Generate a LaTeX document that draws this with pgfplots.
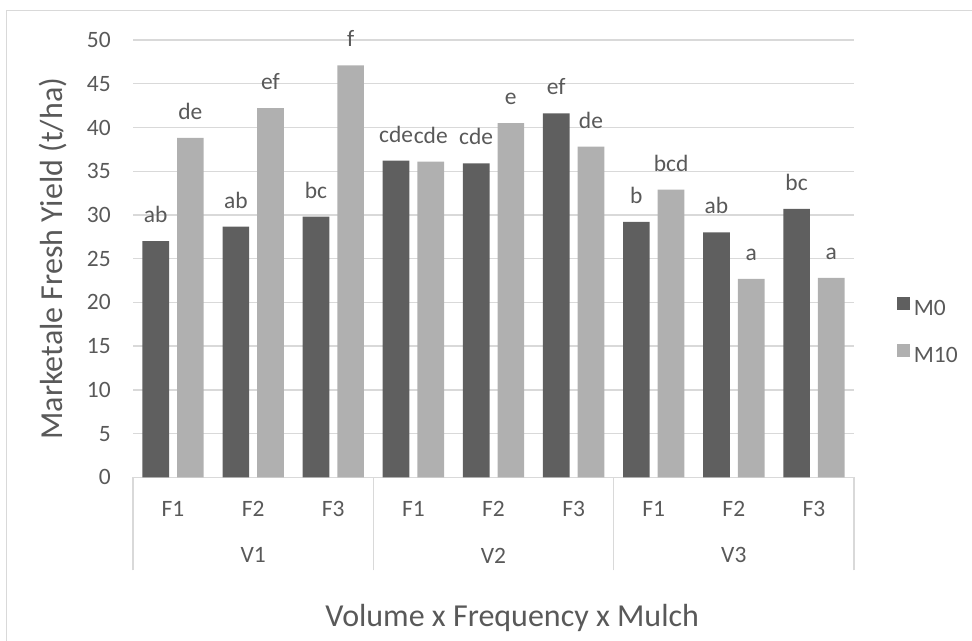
\documentclass[border=0pt]{standalone}
\usepackage{pgfplots}
\pgfplotsset{compat=1.18}
\usepackage{fontspec}
\setmainfont{Carlito}
\definecolor{darkbar}{HTML}{5F5F5F}
\definecolor{lightbar}{HTML}{B0B0B0}
\definecolor{txt}{HTML}{595959}
\definecolor{gridc}{HTML}{D9D9D9}
\newcommand{\lblfont}{\fontsize{17.6}{20}\selectfont}
\newcommand{\ttlfont}{\fontsize{24}{28}\selectfont}
\begin{document}
\begin{tikzpicture}
\begin{scope}[x=0.75pt,y=-0.75pt]
\useasboundingbox (0,0) rectangle (972,640);
\draw[gridc, line width=1pt] (6.5,700) -- (6.5,10.5) -- (1000,10.5);
\end{scope}
\begin{axis}[
  at={(99.75pt,-357.975pt)}, anchor=south west,
  width=540.75pt, height=327.975pt, scale only axis,
  xmin=-0.5, xmax=8.5, ymin=0, ymax=50,
  ybar=6pt, bar width=20pt,
  ytick={0,5,...,50}, ymajorgrids, grid style={gridc, line width=1pt},
  xtick={0,...,8}, xticklabels={F1,F2,F3,F1,F2,F3,F1,F2,F3},
  axis line style={draw=none},
  major tick length=0pt,
  xtick pos=bottom, ytick pos=left,
  tick style={gridc, line width=1pt},
  extra x ticks={-0.5,2.5,5.5,8.5}, extra x tick labels={},
  extra x tick style={major tick length=69.75pt, tick align=outside},
  ticklabel style={font=\lblfont, text=txt},
  /pgf/number format/assume math mode=true,
  yticklabel style={inner sep=0pt, anchor=east, xshift=-16.5pt},
  xticklabel style={anchor=center, yshift=-23.5pt, inner sep=0pt},
  clip=false,
  nodes near coords, point meta=explicit symbolic,
  every node near coord/.append style={anchor=base, yshift=13.9pt, inner sep=0pt, font=\lblfont, text=txt},
  xlabel={Volume x Frequency x Mulch},
  xlabel style={at={(axis description cs:0.526,-0.342)}, anchor=base, font=\ttlfont, text=txt},
  ylabel={Marketale Fresh Yield (t/ha)},
  ylabel style={at={(axis description cs:-0.111,0.5)}, anchor=center, font=\ttlfont, text=txt},
  legend image code/.code={\fill[#1] (0pt,-0.6pt) rectangle (9.75pt,9.15pt);},
  legend style={at={(axis description cs:1.059,0.335)}, anchor=west, draw=none, fill=none,
    inner sep=0pt, outer sep=0pt, font=\lblfont, text=txt, row sep=20pt, column sep=3.25pt,
    nodes={inner sep=0pt}},
  legend cell align=left,
]
\addplot[fill=darkbar, draw=none] coordinates {
  (0,27.0) [ab] (1,28.65) [ab] (2,29.8) [bc]
  (3,36.2) [cde] (4,35.9) [cde] (5,41.6) [ef]
  (6,29.2) [b] (7,28.0) [ab] (8,30.7) [bc]};
\addplot[fill=lightbar, draw=none] coordinates {
  (0,38.8) [de] (1,42.2) [ef] (2,47.1) [f]
  (3,36.1) [cde] (4,40.5) [e] (5,37.8) [de]
  (6,32.9) [bcd] (7,22.7) [a] (8,22.8) [a]};
\legend{M0,M10}
\node[font=\lblfont, text=txt, inner sep=0pt, yshift=-58.6pt] at (axis cs:1,0) {V1};
\node[font=\lblfont, text=txt, inner sep=0pt, yshift=-58.6pt] at (axis cs:4,0) {V2};
\node[font=\lblfont, text=txt, inner sep=0pt, yshift=-58.6pt] at (axis cs:7,0) {V3};
\end{axis}
\end{tikzpicture}
\end{document}
